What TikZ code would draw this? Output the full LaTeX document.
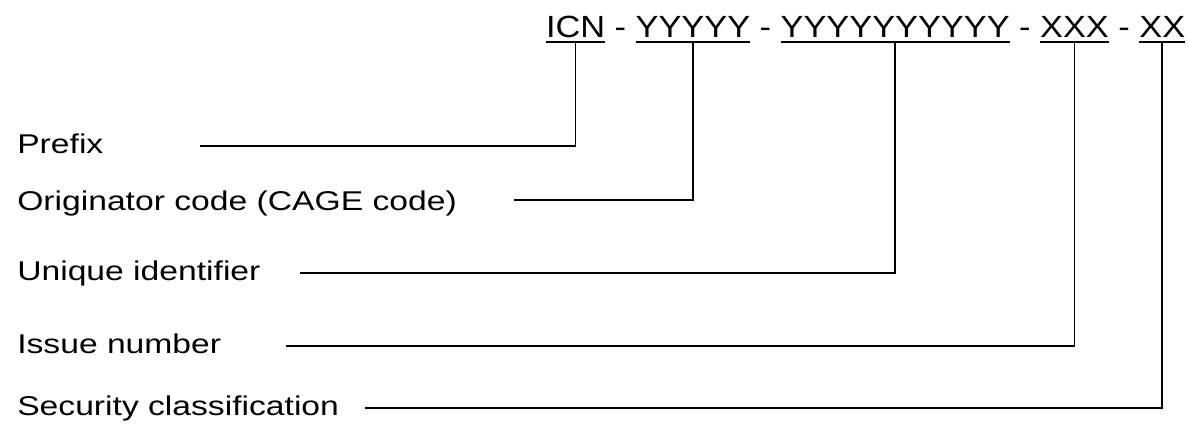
\documentclass[tikz,border=0pt]{standalone}
\usepackage{fontspec}
\setmainfont{Liberation Sans}
\usetikzlibrary{positioning}
\newcommand\widen[2]{\scalebox{#1}[1]{#2}}
\begin{document}
\begin{tikzpicture}[x=0.025cm,y=-0.025cm,
        part/.style={font=\fontsize{21.8}{24}\selectfont, inner sep=0pt, outer sep=0pt,
            text height=0.55cm, text depth=0.125cm},
        label/.style={font=\fontsize{19.3}{22}\selectfont, inner sep=0pt, anchor=west,
            text height=0.5cm, text depth=0.15cm},
        uline/.style={line width=0.8pt},
        lead/.style={line width=1.3pt}]
    \useasboundingbox (0,0) rectangle (1188,424);
    % code groups along the top
    \node[part, anchor=base west] (icn) at (546,37) {\widen{1.12}{ICN}};
    \node[part, base right=0pt of icn] (d1) {\widen{1.12}{\ -\ }};
    \node[part, base right=0pt of d1] (cage) {\widen{1.12}{YYYYY}};
    \node[part, base right=0pt of cage] (d2) {\widen{1.12}{\ -\ }};
    \node[part, base right=0pt of d2] (uid) {\widen{1.12}{YYYYYYYYYY}};
    \node[part, base right=0pt of uid] (d3) {\widen{1.12}{\ -\ }};
    \node[part, base right=0pt of d3] (iss) {\widen{1.12}{XXX}};
    \node[part, base right=0pt of iss] (d4) {\widen{1.12}{\ -\ }};
    \node[part, base right=0pt of d4] (sec) {\widen{1.12}{XX}};
    \foreach \n in {icn,cage,uid,iss,sec}
        \draw[uline] (\n.south west) -- (\n.south east);
    % labels on the left
    \node[label] (prefix) at (17,146) {\widen{1.24}{Prefix}};
    \node[label] (orig) at (17,203) {\widen{1.24}{Originator code (CAGE code)}};
    \node[label] (ident) at (17,273) {\widen{1.24}{Unique identifier}};
    \node[label] (issue) at (17,346) {\widen{1.24}{Issue number}};
    \node[label] (secur) at (17,408) {\widen{1.24}{Security classification}};
    \coordinate (prefix-c) at (200,146);
    \coordinate (orig-c) at (514,200);
    \coordinate (ident-c) at (300,273);
    \coordinate (issue-c) at (286,346);
    \coordinate (secur-c) at (365,408);
    \draw[lead] (prefix-c) -| (icn.south);
    \draw[lead] (orig-c) -| (cage.south);
    \draw[lead] (ident-c) -| (uid.south);
    \draw[lead] (issue-c) -| (iss.south);
    \draw[lead] (secur-c) -| (sec.south);
\end{tikzpicture}
\end{document}
